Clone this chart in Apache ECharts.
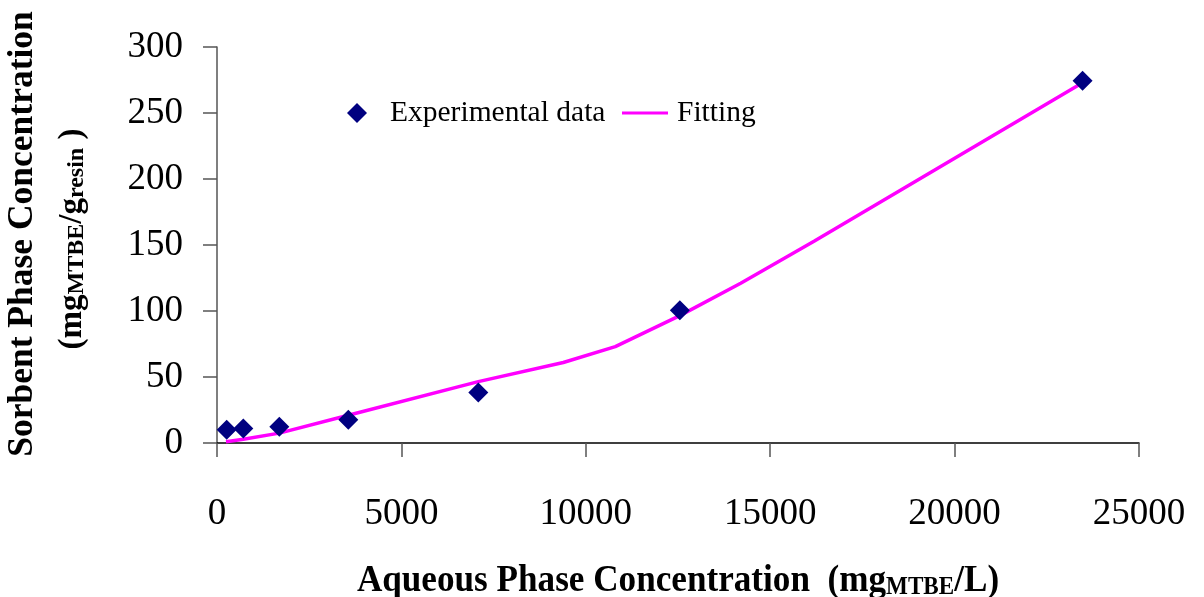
<!DOCTYPE html>
<html>
<head>
<meta charset="utf-8">
<script src="https://cdn.jsdelivr.net/npm/echarts@6/dist/echarts.min.js"></script>
<style>
  html, body { margin: 0; padding: 0; background: #fff; }
  #chart { width: 1204px; height: 597px; }
</style>
</head>
<body>
<div id="chart"></div>
<script>
// Aqueous phase concentration (mg MTBE / L) of the measured points
const expX = [263, 713, 1690, 3560, 7085, 12550, 23470];
// Sorbent phase concentration (mg MTBE / g resin) of the measured points
const expY = [10, 11, 12.4, 17.6, 38.2, 100.5, 274.5];

// Fitted isotherm curve
const fitX = [244, 713, 1690, 3560, 7085, 9390, 10800, 12550, 14200, 16200, 23470];
const fitY = [1, 2.8, 7.5, 21, 46.5, 61, 73, 96.5, 121, 153, 273];

// Axis ranges and ticks
const xTicks = { min: 0, max: 25000, interval: 5000 };
const yTicks = { min: 0, max: 300, interval: 50 };

const seriesNames = ['Experimental data', 'Fitting'];

const serif = "'Liberation Serif', 'Times New Roman', serif";

const chart = echarts.init(document.getElementById('chart'), null, { renderer: 'canvas' });

const expData = expX.map((x, i) => [x, expY[i]]);
const fitData = fitX.map((x, i) => [x, fitY[i]]);

chart.setOption({
  backgroundColor: '#ffffff',
  animation: false,
  grid: { left: 217, right: 65, top: 47, bottom: 154, containLabel: false },
  xAxis: {
    type: 'value',
    min: xTicks.min, max: xTicks.max, interval: xTicks.interval,
    axisLine: { show: true, onZero: false, lineStyle: { color: '#000', width: 1.5 } },
    axisTick: { show: true, length: 14, lineStyle: { color: '#555', width: 1.5 } },
    splitLine: { show: false },
    axisLabel: {
      margin: 53, fontFamily: serif, fontSize: 37, color: '#000',
      formatter: v => String(v)
    }
  },
  yAxis: {
    type: 'value',
    min: yTicks.min, max: yTicks.max, interval: yTicks.interval,
    axisLine: { show: true, lineStyle: { color: '#555', width: 1.5 } },
    axisTick: { show: true, length: 14, lineStyle: { color: '#555', width: 1.5 } },
    splitLine: { show: false },
    axisLabel: {
      margin: 34, fontFamily: serif, fontSize: 37, color: '#000',
      formatter: v => String(v)
    }
  },
  legend: [
    {
      data: [{ name: seriesNames[0], icon: 'diamond' }],
      left: 347, top: 98, padding: 0,
      itemWidth: 20, itemHeight: 20,
      textStyle: { fontFamily: serif, fontSize: 29.5, color: '#000', padding: [0, 0, 0, 18] }
    },
    {
      data: [{ name: seriesNames[1], icon: 'rect' }],
      left: 622, top: 98, padding: 0,
      itemWidth: 46, itemHeight: 3,
      textStyle: { fontFamily: serif, fontSize: 29.5, color: '#000', padding: [0, 0, 0, 4] }
    }
  ],
  graphic: [
    {
      type: 'text',
      x: 23, y: 234,
      rotation: Math.PI / 2,
      style: {
        text: 'Sorbent Phase Concentration',
        font: "bold 35.5px 'Liberation Serif', 'Times New Roman', serif",
        fill: '#000',
        align: 'center',
        verticalAlign: 'middle'
      }
    },
    {
      type: 'text',
      x: 70, y: 239,
      rotation: Math.PI / 2,
      style: {
        text: '{m|(mg}{s|MTBE}{m|/g}{s|resin}{m| )}',
        fill: '#000',
        align: 'center',
        verticalAlign: 'middle',
        rich: {
          m: { fontFamily: serif, fontWeight: 'bold', fontSize: 33, lineHeight: 38, verticalAlign: 'bottom', fill: '#000' },
          s: { fontFamily: serif, fontWeight: 'bold', fontSize: 24, lineHeight: 18, verticalAlign: 'bottom', fill: '#000' }
        }
      }
    },
    {
      type: 'text',
      x: 678, y: 578,
      scaleX: 0.925,
      style: {
        text: '{m|Aqueous Phase Concentration  (mg}{s|MTBE}{m|/L)}',
        fill: '#000',
        align: 'center',
        verticalAlign: 'middle',
        rich: {
          m: { fontFamily: serif, fontWeight: 'bold', fontSize: 38, lineHeight: 44, verticalAlign: 'bottom', fill: '#000' },
          s: { fontFamily: serif, fontWeight: 'bold', fontSize: 25, lineHeight: 20, verticalAlign: 'bottom', fill: '#000' }
        }
      }
    }
  ],
  series: [
    {
      name: seriesNames[1],
      type: 'line',
      data: fitData,
      symbol: 'none',
      showSymbol: false,
      smooth: false,
      lineStyle: { color: '#ff00ff', width: 3.5 },
      itemStyle: { color: '#ff00ff' },
      z: 2
    },
    {
      name: seriesNames[0],
      type: 'scatter',
      data: expData,
      symbol: 'diamond',
      symbolSize: 20,
      itemStyle: { color: '#000080', opacity: 1 },
      z: 3
    }
  ]
});
</script>
</body>
</html>
